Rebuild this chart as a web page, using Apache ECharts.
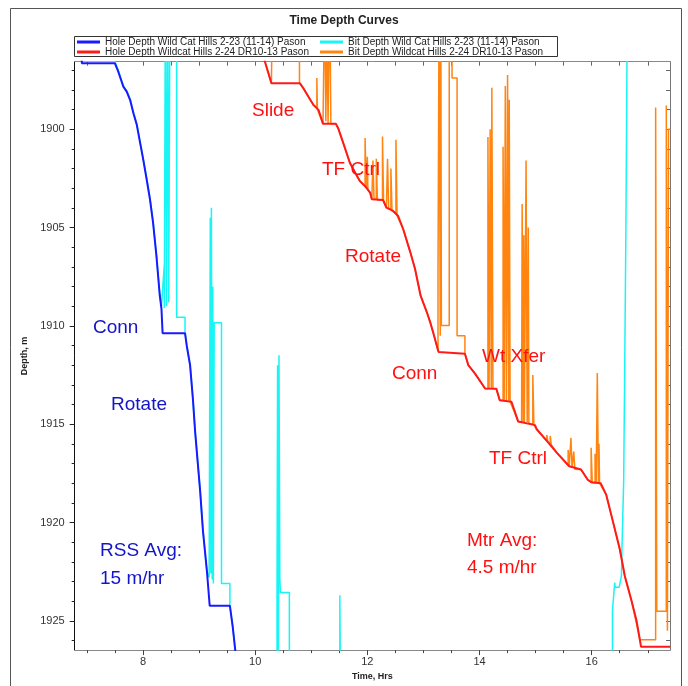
<!DOCTYPE html>
<html><head><meta charset="utf-8">
<script src="https://cdn.jsdelivr.net/npm/echarts@6/dist/echarts.min.js"></script>
<style>html,body{margin:0;padding:0;background:#fff}#c{width:688px;height:686px}</style>
</head><body><div id="c"></div>
<script>
// ---- names ----
const nameHoleA = 'Hole Depth Wild Cat Hills 2-23 (11-14) Pason';
const nameBitA  = 'Bit Depth Wild Cat Hills 2-23 (11-14) Pason';
const nameHoleB = 'Hole Depth Wildcat Hills 2-24 DR10-13 Pason';
const nameBitB  = 'Bit Depth Wildcat Hills 2-24 DR10-13 Pason';

// ---- axis ticks ----
const xMajorTicks = [8, 10, 12, 14, 16];
const xMinorTicks = [7, 7.5, 8, 8.5, 9, 9.5, 10, 10.5, 11, 11.5, 12, 12.5, 13, 13.5, 14, 14.5, 15, 15.5, 16, 16.5, 17];
const yMajorTicks = [1900, 1905, 1910, 1915, 1920, 1925];
const yMinorTicks = [1897,1898,1899,1900,1901,1902,1903,1904,1905,1906,1907,1908,1909,1910,1911,1912,1913,1914,1915,1916,1917,1918,1919,1920,1921,1922,1923,1924,1925,1926];

// ---- Hole depth, Wild Cat Hills 2-23 (hrs, m) ----
const holeATime = [6.91, 6.91, 7.50, 7.56, 7.65, 7.71, 7.77, 7.83, 7.89, 7.95, 8.005, 8.066, 8.125, 8.18, 8.24, 8.30, 8.33, 8.35, 8.75, 8.78, 8.84, 8.89, 8.93, 8.98, 9.02, 9.07, 9.14, 9.19, 9.55, 9.60, 9.64, 9.68];
const holeADepth = [1895.5, 1896.65, 1896.65, 1897.08, 1897.84, 1898.09, 1898.51, 1899.19, 1899.78, 1900.71, 1901.55, 1902.56, 1903.57, 1904.75, 1906.44, 1908.47, 1909.14, 1910.38, 1910.38, 1911.0, 1912.0, 1913.7, 1915.38, 1917.07, 1918.42, 1920.44, 1922.47, 1924.24, 1924.24, 1925.3, 1926.35, 1927.5];

// ---- Bit depth, Wild Cat Hills 2-23 ----
const bitATime = [6.91, 6.91, 7.50, 7.56, 7.65, 7.71, 7.77, 7.83, 7.89, 7.95, 8.005, 8.066, 8.125, 8.18, 8.24, 8.30, 8.33,
  8.36, 8.38, 8.38, 8.40, 8.40, 8.42, 8.42, 8.44, 8.44, 8.46, 8.46, 8.48, 8.48, 8.60, 8.60, 8.75, 8.75,
  8.78, 8.84, 8.89, 8.93, 8.98, 9.02, 9.07, 9.14, 9.18,
  9.20, 9.20, 9.21, 9.21, 9.22, 9.22, 9.235, 9.235, 9.245, 9.245, 9.255, 9.255, 9.27, 9.27, 9.40, 9.40, 9.55, 9.55, 9.60, 9.64, 9.68,
  9.70, 10.39, 10.39, 10.40, 10.40, 10.415, 10.415, 10.425, 10.425, 10.44, 10.44, 10.45, 10.45, 10.61, 10.61,
  11.51, 11.51, 11.525, 11.525, 16.37, 16.37, 16.40, 16.41, 16.42, 16.49, 16.53, 16.54, 16.57, 16.59, 16.61, 16.63, 16.64];
const bitADepth = [1895.5, 1896.55, 1896.55, 1897.0, 1897.8, 1898.05, 1898.45, 1899.15, 1899.75, 1900.65, 1901.5, 1902.5, 1903.5, 1904.7, 1906.4, 1908.4, 1909.0,
  1909.0, 1906.9, 1909.1, 1909.1, 1893, 1893, 1909.0, 1909.0, 1893, 1893, 1908.8, 1908.8, 1893, 1893, 1909.56, 1909.56, 1910.3,
  1911.0, 1912.0, 1913.7, 1915.38, 1917.07, 1918.42, 1920.44, 1922.47, 1922.8,
  1922.8, 1904.5, 1904.5, 1922.6, 1922.6, 1904.0, 1904.0, 1922.9, 1922.9, 1908.0, 1908.0, 1923.1, 1923.1, 1909.85, 1909.85, 1923.1, 1923.1, 1924.24, 1925.3, 1926.35, 1927.5,
  1930, 1930, 1923.5, 1923.5, 1912.0, 1912.0, 1927, 1927, 1911.5, 1911.5, 1922.8, 1922.8, 1923.56, 1923.56, 1930,
  1930, 1923.7, 1923.7, 1930, 1930, 1924.5, 1924.5, 1923.06, 1923.3, 1923.3, 1922.7, 1921.3, 1917.9, 1911.7, 1905, 1896, 1890];

// ---- Hole depth, Wildcat Hills 2-24 ----
const holeBTime = [10.06, 10.175, 10.29, 10.80, 10.86, 10.95, 11.04, 11.13, 11.21, 11.44, 11.48, 11.57, 11.69, 11.80, 11.87, 11.96, 12.05, 12.08, 12.28, 12.34, 12.46, 12.55, 12.64, 12.76, 12.85, 12.95, 13.06, 13.12, 13.18, 13.27, 13.29, 13.74, 13.80, 13.92, 14.10, 14.30, 14.36, 14.57, 14.69, 14.99, 15.02, 15.20, 15.38, 15.60, 15.81, 15.93, 15.99, 16.16, 16.26, 16.38, 16.50, 16.59, 16.71, 16.80, 16.88, 17.40];
const holeBDepth = [1895.5, 1896.57, 1897.67, 1897.67, 1897.92, 1898.35, 1898.77, 1899.02, 1899.73, 1899.73, 1899.95, 1900.70, 1901.72, 1902.3, 1902.65, 1902.90, 1903.23, 1903.57, 1903.6, 1903.99, 1904.16, 1904.42, 1905.09, 1906.2, 1907.1, 1908.47, 1909.3, 1909.81, 1910.4, 1911.33, 1911.42, 1911.42, 1912.0, 1912.43, 1913.19, 1913.2, 1913.78, 1913.86, 1914.87, 1915.05, 1915.26, 1915.85, 1916.46, 1917.14, 1917.31, 1917.83, 1917.95, 1918.0, 1918.6, 1919.97, 1921.35, 1922.72, 1923.98, 1925.0, 1926.32, 1926.32];

// ---- Bit depth, Wildcat Hills 2-24 ----
const bitBTime = [10.06, 10.175, 10.29, 10.31, 10.31, 10.79, 10.79, 10.80, 10.86, 10.95, 11.04, 11.10, 11.10, 11.11, 11.11, 11.13, 11.21, 11.24, 11.24, 11.26, 11.26, 11.28, 11.28, 11.30, 11.30, 11.33, 11.33, 11.35, 11.35, 11.44,
  11.48, 11.57, 11.69, 11.80, 11.87, 11.96, 11.96, 11.98, 11.98, 12.00, 12.00, 12.01, 12.01, 12.05, 12.08, 12.10, 12.10, 12.12, 12.12, 12.16, 12.16, 12.18, 12.18, 12.27, 12.27, 12.29, 12.29, 12.34, 12.36, 12.36, 12.38, 12.38, 12.42, 12.42, 12.44, 12.44, 12.51, 12.51, 12.53, 12.53, 12.55,
  12.64, 12.76, 12.85, 12.95, 13.06, 13.12, 13.18, 13.26, 13.26, 13.28, 13.28, 13.30, 13.30, 13.31, 13.31, 13.32, 13.32, 13.46, 13.46, 13.51, 13.51, 13.60, 13.60, 13.74, 13.74, 13.80, 13.92, 14.10, 14.15,
  14.15, 14.17, 14.17, 14.19, 14.19, 14.21, 14.21, 14.22, 14.22, 14.24, 14.24, 14.30, 14.36, 14.42, 14.42, 14.44, 14.44, 14.46, 14.46, 14.48, 14.48, 14.50, 14.50, 14.52, 14.52, 14.53, 14.53, 14.545, 14.545, 14.57, 14.69,
  14.75, 14.76, 14.76, 14.78, 14.78, 14.79, 14.79, 14.80, 14.80, 14.83, 14.83, 14.85, 14.85, 14.87, 14.87, 14.88, 14.88, 14.95, 14.95, 14.97, 14.97, 14.99, 15.02, 15.20, 15.20, 15.22, 15.22, 15.26, 15.26, 15.28, 15.28, 15.38, 15.58, 15.58, 15.60, 15.60, 15.63, 15.63, 15.65, 15.65, 15.68, 15.68, 15.70, 15.70, 15.81, 15.93, 15.99, 15.99, 16.01, 16.01, 16.06, 16.06, 16.08, 16.08, 16.10, 16.10, 16.12, 16.12, 16.13, 16.13, 16.14, 16.14, 16.16,
  16.26, 16.38, 16.50, 16.59, 16.71, 16.86, 17.14, 17.14, 17.16, 17.16, 17.33, 17.33, 17.35, 17.35, 17.37, 17.37, 17.40];
const bitBDepth = [1895.5, 1896.57, 1897.67, 1897.67, 1893, 1893, 1897.67, 1897.67, 1897.92, 1898.35, 1898.77, 1898.9, 1897.4, 1897.4, 1899.0, 1899.02, 1899.73, 1899.73, 1893, 1893, 1899.6, 1899.6, 1895, 1895, 1899.7, 1899.7, 1893, 1893, 1899.73, 1899.73,
  1899.95, 1900.70, 1901.72, 1902.3, 1902.65, 1902.90, 1900.45, 1900.45, 1903.0, 1903.0, 1901.4, 1901.4, 1903.1, 1903.23, 1903.57, 1903.57, 1901.6, 1901.6, 1903.57, 1903.57, 1901.5, 1901.5, 1903.6, 1903.6, 1900.37, 1900.37, 1903.7, 1903.99, 1903.99, 1901.5, 1901.5, 1904.0, 1904.1, 1902.0, 1902.0, 1904.14, 1904.3, 1900.54, 1900.54, 1904.4, 1904.42,
  1905.09, 1906.2, 1907.1, 1908.47, 1909.3, 1909.81, 1910.4, 1911.3, 1907.4, 1907.4, 1893, 1893, 1910.5, 1910.5, 1893, 1893, 1909.98, 1909.98, 1893, 1893, 1897.4, 1897.4, 1910.5, 1910.5, 1911.42, 1912.0, 1912.43, 1913.19, 1913.2,
  1900.4, 1900.4, 1913.2, 1913.2, 1900.0, 1900.0, 1913.2, 1913.2, 1897.9, 1897.9, 1913.2, 1913.2, 1913.78, 1913.8, 1900.9, 1900.9, 1913.8, 1913.8, 1897.8, 1897.8, 1913.8, 1913.8, 1897.25, 1897.25, 1913.8, 1913.8, 1898.5, 1898.5, 1913.86, 1913.86, 1914.87,
  1914.9, 1914.9, 1903.8, 1903.8, 1914.9, 1914.9, 1905.4, 1905.4, 1914.9, 1914.9, 1901.6, 1901.6, 1914.9, 1914.9, 1905.0, 1905.0, 1914.95, 1915.0, 1912.5, 1912.5, 1915.05, 1915.05, 1915.26, 1915.85, 1915.55, 1915.55, 1915.9, 1916.0, 1915.6, 1915.6, 1916.05, 1916.46, 1917.1, 1916.3, 1916.3, 1917.14, 1917.2, 1915.7, 1915.7, 1917.2, 1917.25, 1916.4, 1916.4, 1917.3, 1917.31, 1917.83, 1917.95, 1916.2, 1916.2, 1917.97, 1917.98, 1916.5, 1916.5, 1917.99, 1918.0, 1912.4, 1912.4, 1918.0, 1918.0, 1916.0, 1916.0, 1918.0, 1918.0,
  1918.6, 1919.97, 1921.35, 1922.72, 1923.98, 1925.96, 1925.96, 1898.9, 1898.9, 1924.52, 1924.52, 1898.8, 1898.8, 1925.5, 1925.5, 1900, 1900];

// ---- annotations ----
const notesBlue = ['Conn', 'Rotate', 'RSS Avg:', '15 m/hr'];
const notesRed = ['Slide', 'TF Ctrl', 'Rotate', 'Conn', 'Wt Xfer', 'TF Ctrl', 'Mtr Avg:', '4.5 m/hr'];
const notesBluePos = [[93, 328], [111, 405], [100, 551], [100, 579]];
const notesRedPos = [[252, 111], [322, 170], [345, 257], [392, 374], [482, 357], [489, 459], [467, 541], [467, 568]];

const zip = (a, b) => a.map((v, i) => [v, b[i]]);
const FONT = 'Liberation Sans, Arial, sans-serif';
const xMin = 6.783, xMax = 17.396, yMin = 1896.57, yMax = 1926.49;

const chart = echarts.init(document.getElementById('c'), null, {renderer: 'canvas'});

const graphics = [
  {type: 'rect', shape: {x: 10.5, y: 8.5, width: 671, height: 700}, style: {fill: 'none', stroke: '#555', lineWidth: 1}, silent: true},
  {type: 'rect', shape: {x: 74.5, y: 36.5, width: 483, height: 20}, style: {fill: 'none', stroke: '#333', lineWidth: 1}, silent: true}
];
notesBlue.forEach((t, i) => graphics.push({type: 'text', z: 100, style: {text: t, x: notesBluePos[i][0], y: notesBluePos[i][1], fill: '#1414c8', font: '19px ' + FONT, textVerticalAlign: 'middle', verticalAlign: 'middle'}}));
notesRed.forEach((t, i) => graphics.push({type: 'text', z: 100, style: {text: t, x: notesRedPos[i][0], y: notesRedPos[i][1], fill: '#ff1010', font: '19px ' + FONT, textVerticalAlign: 'middle', verticalAlign: 'middle'}}));

const legendBase = {orient: 'horizontal', icon: 'rect', itemWidth: 23, itemHeight: 3, itemGap: 5, padding: 0,
  textStyle: {fontSize: 10, color: '#222', fontFamily: FONT, lineHeight: 10}, selectedMode: false};

const thinAxis = {type: 'value', min: xMin, max: xMax, splitLine: {show: false}, axisLabel: {show: false}};
const thinYAxis = {type: 'value', min: yMin, max: yMax, inverse: true, splitLine: {show: false}, axisLabel: {show: false}};

chart.setOption({
  animation: false,
  backgroundColor: '#fff',
  textStyle: {fontFamily: FONT},
  title: {text: 'Time Depth Curves', left: 'center', top: 15, padding: 0,
    textStyle: {fontSize: 12, fontWeight: 'bold', color: '#222', fontFamily: FONT}},
  legend: [
    Object.assign({}, legendBase, {data: [nameHoleA], left: 77, top: 37}),
    Object.assign({}, legendBase, {data: [nameBitA], left: 320, top: 37}),
    Object.assign({}, legendBase, {data: [nameHoleB], left: 77, top: 47}),
    Object.assign({}, legendBase, {data: [nameBitB], left: 320, top: 47})
  ],
  grid: {left: 74.7, right: 18, top: 61.7, bottom: 33.3, containLabel: false},
  xAxis: [
    {type: 'value', position: 'bottom', min: xMin, max: xMax,
      name: 'Time, Hrs', nameLocation: 'middle', nameGap: 21,
      nameTextStyle: {fontSize: 9, fontWeight: 'bold', color: '#222', fontFamily: FONT},
      axisLine: {show: true, lineStyle: {color: '#888', width: 1}},
      axisTick: {show: true, customValues: xMajorTicks, length: 5, lineStyle: {color: '#444'}},
      axisLabel: {show: true, customValues: xMajorTicks, fontSize: 11, color: '#333', margin: 6, fontFamily: FONT,
        formatter: v => String(v)},
      splitLine: {show: false}},
    Object.assign({}, thinAxis, {position: 'bottom', axisLine: {show: false},
      axisTick: {show: true, customValues: xMinorTicks, length: 3, lineStyle: {color: '#444'}}}),
    Object.assign({}, thinAxis, {position: 'top', axisLine: {show: true, lineStyle: {color: '#888'}},
      axisTick: {show: true, inside: true, customValues: xMinorTicks, length: 4, lineStyle: {color: '#666'}}})
  ],
  yAxis: [
    {type: 'value', position: 'left', min: yMin, max: yMax, inverse: true,
      name: 'Depth, m', nameLocation: 'middle', nameGap: 38, nameRotate: 90,
      nameTextStyle: {fontSize: 9, fontWeight: 'bold', color: '#222', fontFamily: FONT},
      axisLine: {show: true, lineStyle: {color: '#111', width: 1}},
      axisTick: {show: true, customValues: yMajorTicks, length: 5, lineStyle: {color: '#222'}},
      axisLabel: {show: true, customValues: yMajorTicks, fontSize: 11, color: '#333', margin: 10, fontFamily: FONT,
        formatter: v => String(v)},
      splitLine: {show: false}},
    Object.assign({}, thinYAxis, {position: 'left', axisLine: {show: false},
      axisTick: {show: true, customValues: yMinorTicks, length: 3, lineStyle: {color: '#222'}}}),
    Object.assign({}, thinYAxis, {position: 'right', axisLine: {show: true, lineStyle: {color: '#777'}},
      axisTick: {show: true, inside: true, customValues: yMinorTicks, length: 4, lineStyle: {color: '#666'}}})
  ],
  series: [
    {name: nameBitA, type: 'line', data: zip(bitATime, bitADepth), showSymbol: false, symbol: 'none', clip: true,
      lineStyle: {color: '#19f5f5', width: 1.5}, itemStyle: {color: '#19f5f5'}, z: 2},
    {name: nameHoleA, type: 'line', data: zip(holeATime, holeADepth), showSymbol: false, symbol: 'none', clip: true,
      lineStyle: {color: '#1a1aff', width: 2}, itemStyle: {color: '#1a1aff'}, z: 3},
    {name: nameBitB, type: 'line', data: zip(bitBTime, bitBDepth), showSymbol: false, symbol: 'none', clip: true,
      lineStyle: {color: '#ff8410', width: 1.5}, itemStyle: {color: '#ff8410'}, z: 2},
    {name: nameHoleB, type: 'line', data: zip(holeBTime, holeBDepth), showSymbol: false, symbol: 'none', clip: true,
      lineStyle: {color: '#ff1a1a', width: 2}, itemStyle: {color: '#ff1a1a'}, z: 3}
  ],
  graphic: graphics
});
</script></body></html>
